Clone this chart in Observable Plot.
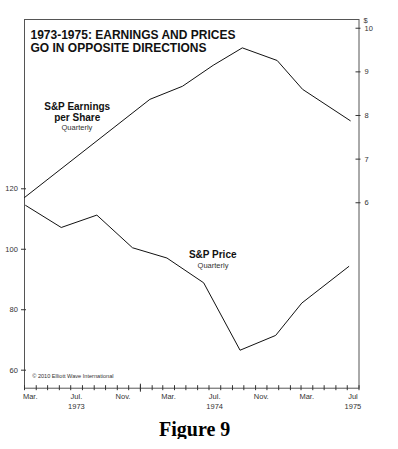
<!DOCTYPE html>
<html>
<head>
<meta charset="utf-8">
<script src="https://cdn.jsdelivr.net/npm/d3@7"></script>
<script src="https://cdn.jsdelivr.net/npm/@observablehq/plot@0.6"></script>
<style>
  html, body { margin: 0; padding: 0; background: #fff; }
  #chart svg { display: block; }
  #caption { font-family: "Liberation Serif", "Times New Roman", serif; font-weight: bold; font-size: 20px; line-height: 20px; margin-top: 7px; padding-left: 159px; color: #000; }
</style>
</head>
<body>
<div id="chart"></div>
<div id="caption">Figure 9</div>
<script>
// ---- data ----
const priceDates = ["1973-03-04","1973-06-06","1973-09-08","1973-12-11","1974-03-12","1974-06-17","1974-09-21","1974-12-24","1975-03-03","1975-07-05"];
const priceValues = [114.5, 107.2, 111.3, 100.5, 97.1, 88.9, 66.6, 71.5, 82.2, 94.3];

const epsDates = ["1973-03-01","1974-01-26","1974-04-22","1974-07-12","1974-09-27","1974-12-28","1975-03-05","1975-07-09"];
const epsValues = [6.12, 8.37, 8.67, 9.15, 9.55, 9.26, 8.60, 7.88];

const leftTicks = [60, 80, 100, 120];
const rightTicks = [6, 7, 8, 9, 10];
const monthLabelMonths = ["1973-03","1973-07","1973-11","1974-03","1974-07","1974-11","1975-03","1975-07"];
const monthLabels = ["Mar.","Jul.","Nov.","Mar.","Jul.","Nov.","Mar.","Jul"];
const yearLabelMonths = ["1973-07","1974-07","1975-07"];
const yearLabels = ["1973","1974","1975"];
const yearBoundary = ["1974-01"];

const title = "1973-1975: EARNINGS AND PRICES\nGO IN OPPOSITE DIRECTIONS";
const epsLabel = "S&P Earnings\nper Share";
const priceLabel = "S&P Price";
const subLabel = "Quarterly";
const copyright = "\u00a9 2010 Elliott Wave International";

// ---- scales ----
const parseDay = d3.utcParse("%Y-%m-%d");
const parseMonth = d3.utcParse("%Y-%m");
const P0 = 54.04, P1 = 176;   // left (price) domain
const E0 = 1.75, E1 = 10.2;   // right (EPS) domain
const epsToPrice = e => P0 + (e - E0) * (P1 - P0) / (E1 - E0);
const priceToEps = p => E0 + (p - P0) * (E1 - E0) / (P1 - P0);

const xStart = Date.UTC(1973, 2, 1), xEnd = Date.UTC(1975, 7, 1);

const price = priceDates.map((d, i) => ({date: parseDay(d), value: priceValues[i]}));
const eps = epsDates.map((d, i) => ({date: parseDay(d), value: epsToPrice(epsValues[i])}));
const monthTicks = d3.utcMonth.range(new Date(xStart), new Date(xEnd + 86400000));
const midMonth = s => d3.utcDay.offset(parseMonth(s), 15);

const font = "Arial, 'Liberation Sans', Helvetica, sans-serif";
const ink = "#333";

const chart = Plot.plot({
  width: 398,
  height: 412,
  marginLeft: 24,
  marginRight: 39.5,
  marginTop: 19,
  marginBottom: 24.3,
  style: {fontFamily: font, fontSize: "7.5px", color: ink, background: "#fff"},
  x: {type: "utc", domain: [new Date(xStart), new Date(xEnd)], label: null},
  y: {domain: [P0, P1], label: null},
  marks: [
    Plot.frame({stroke: "#555", strokeWidth: 1}),
    Plot.line(price, {x: "date", y: "value", stroke: "#111", strokeWidth: 1}),
    Plot.line(eps, {x: "date", y: "value", stroke: "#111", strokeWidth: 1}),
    // left axis (price)
    Plot.axisY(leftTicks, {anchor: "left", label: null, tickSize: 5, tickPadding: 3.7, dx: 2, fontSize: 7.5, color: ink}),
    // right axis (EPS)
    Plot.axisY(rightTicks.map(epsToPrice), {anchor: "right", label: null, tickSize: 5, tickPadding: 4.5, dx: -4, fontSize: 7.5, color: ink,
      tickFormat: d => String(Math.round(priceToEps(d)))}),
    // bottom month ticks
    Plot.axisX(monthTicks, {anchor: "bottom", label: null, tickSize: 5, dy: -2.5, tickFormat: () => "", color: ink}),
    Plot.axisX(yearBoundary.map(s => parseMonth(s)), {anchor: "bottom", label: null, tickSize: 8, dy: -4, tickFormat: () => "", color: ink}),
    // month and year labels
    Plot.text(monthLabels, {x: (d, i) => midMonth(monthLabelMonths[i]), frameAnchor: "bottom", lineAnchor: "top", dy: 5.3, fontSize: 7.5, fill: ink}),
    Plot.text(yearLabels, {x: (d, i) => midMonth(yearLabelMonths[i]), frameAnchor: "bottom", lineAnchor: "top", dy: 15.3, fontSize: 7.5, fill: ink}),
    // $ unit label
    Plot.text(["$"], {frameAnchor: "top-right", textAnchor: "start", lineAnchor: "top", dx: 4.5, dy: -1.7, fontSize: 7.5, fill: ink}),
    // title
    Plot.text([title], {frameAnchor: "top-left", textAnchor: "start", lineAnchor: "top", dx: 6, dy: 10.3, fontSize: 12, fontWeight: "bold", lineHeight: 13 / 12, fill: "#111"}),
    // series labels
    Plot.text([epsLabel], {frameAnchor: "top-left", textAnchor: "middle", lineAnchor: "top", dx: 52.7, dy: 82, fontSize: 10, fontWeight: "bold", lineHeight: 1.13, fill: "#111"}),
    Plot.text([subLabel], {frameAnchor: "top-left", textAnchor: "middle", lineAnchor: "top", dx: 52.4, dy: 105.3, fontSize: 7.5, fill: ink}),
    Plot.text([priceLabel], {frameAnchor: "top-left", textAnchor: "middle", lineAnchor: "top", dx: 188.2, dy: 231, fontSize: 10, fontWeight: "bold", fill: "#111"}),
    Plot.text([subLabel], {frameAnchor: "top-left", textAnchor: "middle", lineAnchor: "top", dx: 188.5, dy: 242.7, fontSize: 7.5, fill: ink}),
    // copyright
    Plot.text([copyright], {frameAnchor: "bottom-left", textAnchor: "start", lineAnchor: "bottom", dx: 7.7, dy: -10.4, fontSize: 5.6, fill: ink})
  ]
});
document.getElementById("chart").appendChild(chart);
</script>
</body>
</html>
